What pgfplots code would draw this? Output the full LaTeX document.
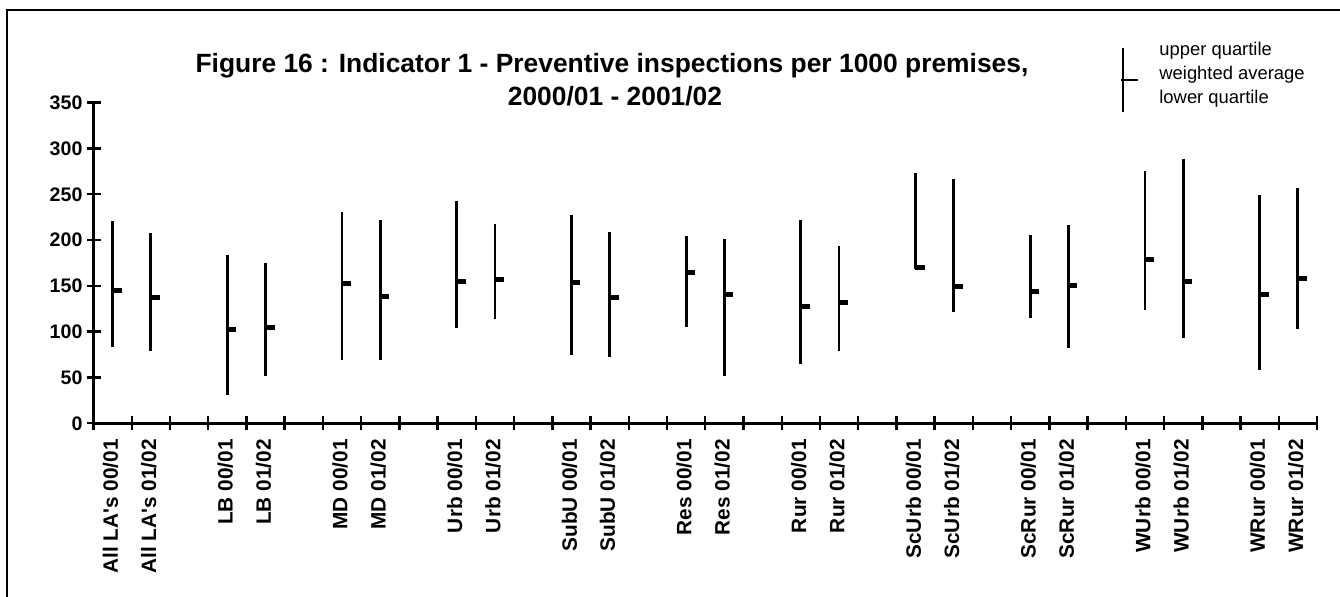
\documentclass[border=0pt]{standalone}
\usepackage{fontspec}
\setmainfont{Liberation Sans}
\usepackage{pgfplots}
\usepackage{pgfplotstable}
\pgfplotsset{compat=1.18}
\pgfdeclareplotmark{closebar}{\pgfpathrectangle{\pgfpoint{-0.3pt}{-1.25pt}}{\pgfpoint{4.8pt}{2.5pt}}\pgfusepathqfill}
\pgfplotstableread{
x low high close
0.5 83 221 145.5
1.5 78.6 207.8 136.8
3.5 31.2 184 102.6
4.5 52 175 104.8
6.5 68.8 230.7 152.4
7.5 68.8 221.6 138.2
9.5 104.4 242.7 154.6
10.5 113.9 217.6 157.5
12.5 74.6 227.7 153.5
13.5 72.7 208.5 136.8
15.5 105.5 204.8 164.8
16.5 51.6 201.5 140.4
18.5 64.7 221.6 127.3
19.5 78.9 193.6 132.4
21.5 168.8 273.6 170.6
22.5 121.8 266.7 148.8
24.5 114.6 205.9 143.7
25.5 82.5 216.5 150.7
27.5 123.4 275.8 178.6
28.5 93.5 288.5 155.3
30.5 58.2 248.9 140.4
31.5 102.6 256.6 158.3
}\datatable
\begin{document}
\begin{tikzpicture}[x=0.5pt,y=0.5pt]
\useasboundingbox (0,0) rectangle (1340,597);
\draw[line width=1pt] (7,-100) -- (7,587) -- (1400,587);
\node[anchor=base, font=\fontsize{13.2}{15}\selectfont\bfseries] at (612,524) {Figure 16 : Indicator 1 - Preventive inspections per 1000 premises,};
\node[anchor=base, font=\fontsize{13.2}{15}\selectfont\bfseries] at (615,491) {2000/01 - 2001/02};
\draw[line width=0.7pt] (1123,549) -- (1123,485);
\draw[line width=0.7pt] (1121,517) -- (1138,517);
\node[anchor=base west, font=\fontsize{9.2}{11}\selectfont, inner sep=0pt] at (1159,541) {upper quartile};
\node[anchor=base west, font=\fontsize{9.2}{11}\selectfont, inner sep=0pt] at (1159,517) {weighted average};
\node[anchor=base west, font=\fontsize{9.2}{11}\selectfont, inner sep=0pt] at (1159,493) {lower quartile};
\coordinate (O) at (93.5,173.7);
\begin{axis}[
  at={(O)}, anchor=south west, scale only axis,
  width=611.75pt, height=160.3pt,
  xmin=0, xmax=32, ymin=0, ymax=350,
  axis lines=left, axis line style={-, line width=1.4pt},
  tick align=center, major tick length=7pt, tick style={line width=1.2pt, black},
  xtick={0,...,32}, xticklabels={},
  ytick={0,50,...,350},
  /pgf/number format/assume math mode=true,
  yticklabel style={font=\fontsize{9.8}{11}\selectfont\bfseries, xshift=1.5pt},
  extra x ticks={0.5,1.5,3.5,4.5,6.5,7.5,9.5,10.5,12.5,13.5,15.5,16.5,18.5,19.5,21.5,22.5,24.5,25.5,27.5,28.5,30.5,31.5},
  extra x tick labels={All LA{\textquotesingle}s 00/01,All LA{\textquotesingle}s 01/02,LB 00/01,LB 01/02,MD 00/01,MD 01/02,Urb 00/01,Urb 01/02,SubU 00/01,SubU 01/02,Res 00/01,Res 01/02,Rur 00/01,Rur 01/02,ScUrb 00/01,ScUrb 01/02,ScRur 00/01,ScRur 01/02,WUrb 00/01,WUrb 01/02,WRur 00/01,WRur 01/02},
  extra x tick style={major tick length=0pt, xticklabel style={rotate=90, anchor=east, xshift=-4.5pt, yshift=1pt, font=\fontsize{10.4}{11}\selectfont\bfseries}},
  clip=false,
]
\addplot[black, only marks, mark=closebar,
  error bars/.cd, y dir=both, y explicit, error mark=none,
  error bar style={line width=1.4pt, black}]
  table[x=x, y=close,
    y error plus expr={\thisrow{high}-\thisrow{close}},
    y error minus expr={\thisrow{close}-\thisrow{low}}] {\datatable};
\end{axis}
\end{tikzpicture}
\end{document}
